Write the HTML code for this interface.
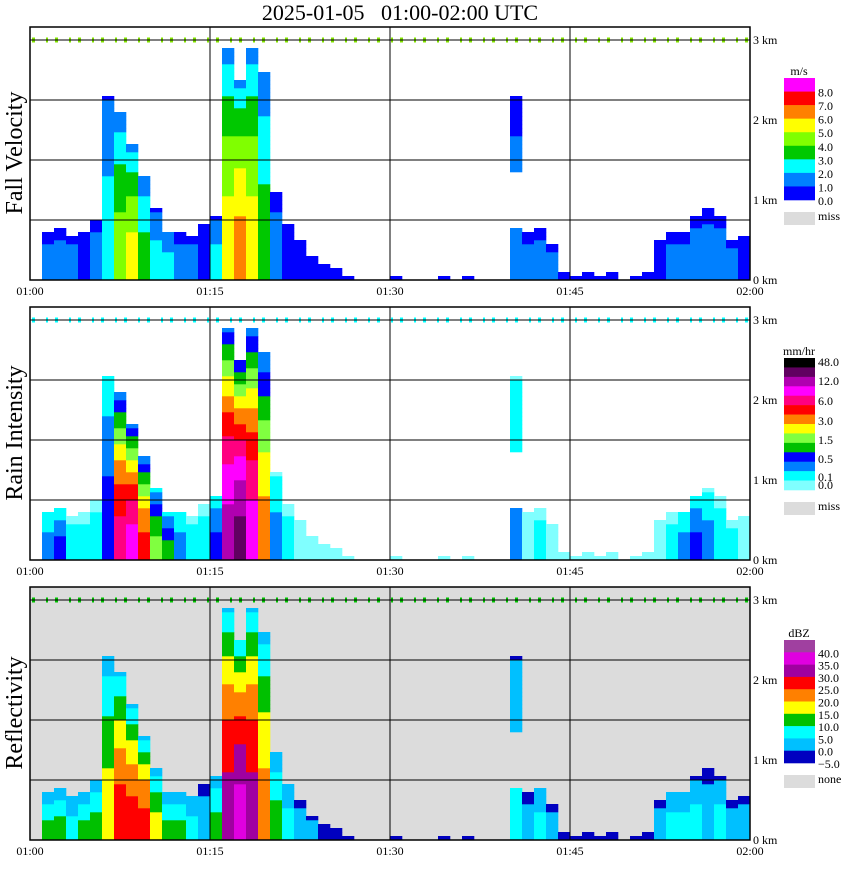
<!DOCTYPE html>
<html><head><meta charset="utf-8">
<style>
body{margin:0;background:#fff;width:850px;height:868px;overflow:hidden}
svg text{font-family:"Liberation Serif",serif}
</style></head>
<body>
<svg id="chart" width="850" height="868" viewBox="0 0 850 868" xmlns="http://www.w3.org/2000/svg">
<text x="400" y="20" font-size="22" text-anchor="middle" style="white-space:pre">2025-01-05   01:00-02:00 UTC</text>
</svg>
<script>
// minute index 0..59 (01:00 -> 02:00)
const minutes = Array.from({length:60},(_,i)=>i);
// echo top height (km) per minute
const echoTop = [0,0.6,0.65,0.55,0.6,0.75,2.3,2.1,1.7,1.3,0.9,0.6,0.6,0.55,0.7,0.8,2.9,2.5,2.9,2.6,1.1,0.7,0.5,0.3,0.2,0.15,0.05,0,0,0,0.05,0,0,0,0.05,0,0.05,0,0,0,2.3,0.6,0.65,0.45,0.1,0.05,0.1,0.05,0.1,0,0.05,0.1,0.5,0.6,0.6,0.8,0.9,0.8,0.5,0.55];
// vertical gap (no echo) between these heights, km
const gapLow  = [0,0,0,0,0,0,0,0,0,0,0,0,0,0,0,0,0,0,0,0,0,0,0,0,0,0,0,0,0,0,0,0,0,0,0,0,0,0,0,0,0.65,0,0,0,0,0,0,0,0,0,0,0,0,0,0,0,0,0,0,0];
const gapHigh = [0,0,0,0,0,0,0,0,0,0,0,0,0,0,0,0,0,0,0,0,0,0,0,0,0,0,0,0,0,0,0,0,0,0,0,0,0,0,0,0,1.35,0,0,0,0,0,0,0,0,0,0,0,0,0,0,0,0,0,0,0];
// peak level index per minute for each product
const velPeak  = [0,1,1,1,0,1,2,4,5,3,2,2,1,1,0,2,5,6,5,3,1,0,0,0,0,0,0,0,0,0,0,0,0,0,0,0,0,0,0,0,1,1,1,1,0,0,0,0,0,0,0,0,0,1,1,1,1,1,1,0];
const rainPeak = [0,2,3,1,1,1,3,9,10,8,5,4,2,1,1,3,11,12,10,7,2,1,0,0,0,0,0,0,0,0,0,0,0,0,0,0,0,0,0,0,2,0,1,0,0,0,0,0,0,0,0,0,0,1,2,3,2,1,1,0];
const reflPeak = [0,3,3,2,3,3,4,6,6,6,4,3,3,2,1,3,7,8,7,5,3,2,1,1,0,0,0,0,0,0,0,0,0,0,0,0,0,0,0,0,2,1,2,1,0,0,0,0,0,0,0,0,1,2,2,2,1,2,1,1];
const velLabels = ["8.0","7.0","6.0","5.0","4.0","3.0","2.0","1.0","0.0"];
const rainLabels = ["48.0","12.0","6.0","3.0","1.5","0.5","0.1","0.0"];
const reflLabels = ["40.0","35.0","30.0","25.0","20.0","15.0","10.0","5.0","0.0","\u22125.0"];
const timeLabels = ["01:00","01:15","01:30","01:45","02:00"];
const kmLabels = ["0 km","1 km","2 km","3 km"];

const velColors = ["#0000ff","#0080ff","#00ffff","#00c800","#80ff00","#ffff00","#ff8000","#ff0000","#ff00ff"];
const rainColors = ["#80ffff","#00ffff","#0080ff","#0000ff","#00c000","#80ff40","#ffff00","#ff8000","#ff0000","#ff0080","#ff00ff","#b000b0","#600060","#000000"];
const reflColors = ["#0000c0","#00c0ff","#00ffff","#00c000","#ffff00","#ff8000","#ff0000","#a000a0","#e000e0","#a040a0"];

const NS="http://www.w3.org/2000/svg";
const svg=document.getElementById('chart');
const X0=30,X1=750;
function xs(m){return X0+(m/60)*(X1-X0);}
function mk(tag,attrs,parent){const e=document.createElementNS(NS,tag);for(const k in attrs)e.setAttribute(k,attrs[k]);(parent||svg).appendChild(e);return e;}

const panels=[
 {top:27,name:"fall-velocity",title:"Fall Velocity",peak:velPeak,colors:velColors,bg:"#fff",clutter:"#80e000",unit:"m/s",labels:velLabels,legTop:78,legBot:200,miss:"miss"},
 {top:307,name:"rain-intensity",title:"Rain Intensity",peak:rainPeak,colors:rainColors,bg:"#fff",clutter:"#00ffff",unit:"mm/hr",labels:rainLabels,legTop:358,legBot:490,miss:"miss"},
 {top:587,name:"reflectivity",title:"Reflectivity",peak:reflPeak,colors:reflColors,bg:"#dcdcdc",clutter:"#00c000",unit:"dBZ",labels:reflLabels,legTop:640,legBot:763,miss:"none"}
];

panels.forEach(p=>{
  const g=mk('g',{});
  
  
  const bottom=p.top+253, y3=p.top+13;
  const kmPx=(bottom-y3)/3;
  function ys(km){return bottom-km*kmPx;}
  mk('rect',{x:X0,y:p.top,width:X1-X0,height:253,fill:p.bg},g);
  const cells=mk('g',{},g);
  
  
  minutes.forEach(m=>{
    const top=echoTop[m]; if(top<=0)return;
    const pk=p.peak[m];
    const nCells=Math.max(1,Math.round((bottom-ys(top))/4));
    for(let k=0;k<nCells;k++){
      const hKm=(k+0.5)*4/kmPx;
      if(gapHigh[m]>0 && hKm>gapLow[m] && hKm<gapHigh[m]) continue;
      const f=(k+0.5)/nCells;
      const lvl=Math.max(0,Math.round(pk*(1-0.8*f*f)));
      const r=mk('rect',{x:xs(m),y:bottom-(k+1)*4,width:(X1-X0)/60+0.3,height:4.3,fill:p.colors[Math.min(lvl,p.colors.length-1)]},cells);
      
      
    }
  });
  mk('line',{x1:X0+2,x2:X1-2,y1:y3,y2:y3,stroke:p.clutter,'stroke-width':5,'stroke-dasharray':'3 11 2 7'},g);
  [0,1,2,3].forEach(i=>mk('line',{x1:X0,x2:X1,y1:y3+60*i,y2:y3+60*i,stroke:'#000','stroke-width':1},g));
  [15,30,45].forEach(mn=>mk('line',{x1:xs(mn),x2:xs(mn),y1:p.top,y2:bottom,stroke:'#000','stroke-width':1},g));
  const fr=mk('rect',{x:X0,y:p.top,width:X1-X0,height:253,fill:'none',stroke:'#000','stroke-width':1.5},g);
  
  
  timeLabels.forEach((t,i)=>{
    const tx=mk('text',{x:xs(i*15),y:bottom+15,'font-size':12,'text-anchor':'middle','font-family':'Liberation Sans, sans-serif'},g);
    tx.textContent=t;
    
    
  });
  kmLabels.forEach((t,i)=>{
    const tx=mk('text',{x:753,y:bottom+4-i*80,'font-size':12},g);
    tx.textContent=t;
    
    
  });
  const yt=mk('text',{x:0,y:0,'font-size':24,'text-anchor':'middle',transform:`translate(22,${p.top+126}) rotate(-90)`},g);
  yt.textContent=p.title;
  
  
  const lg=mk('g',{},g);
  
  
  const n=p.colors.length, bh=(p.legBot-p.legTop)/n;
  for(let i=0;i<n;i++){
    mk('rect',{x:784,y:p.legTop+i*bh,width:31,height:bh+0.3,fill:p.colors[n-1-i]},lg);
  }
  const ut=mk('text',{x:799,y:p.legTop-3,'font-size':12,'text-anchor':'middle'},lg);ut.textContent=p.unit;
  p.labels.forEach((l,i)=>{
    let yy;
    if(p.name==="rain-intensity"){yy=[366,385,405,425,444,463,481,489][i];}
    else {yy=p.legTop+bh*(i+1)+5;}
    const t=mk('text',{x:818,y:yy,'font-size':12},lg);t.textContent=l;
  });
  mk('rect',{x:784,y:p.legBot+12,width:31,height:13,fill:'#dcdcdc'},lg);
  const mt=mk('text',{x:818,y:p.legBot+20,'font-size':12},lg);mt.textContent=p.miss;
});
</script>
</body></html>
